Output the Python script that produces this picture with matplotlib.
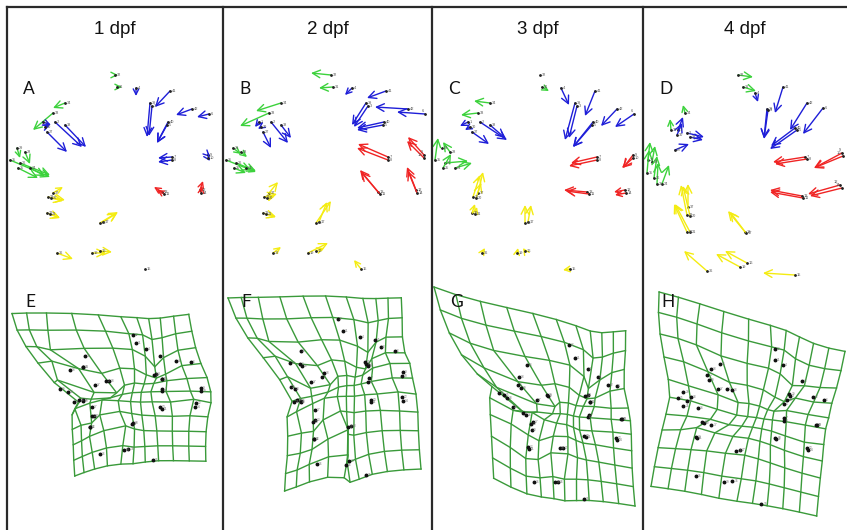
import numpy as np
import matplotlib
matplotlib.use("Agg")
import matplotlib.pyplot as plt

# ---------------- data ----------------
titles = ["1 dpf", "2 dpf", "3 dpf", "4 dpf"]
top_letters = ["A", "B", "C", "D"]
bottom_letters = ["E", "F", "G", "H"]

labels = ["32", "31", "34", "33", "29", "28", "35", "26", "25", "24",
          "4", "41", "39", "3", "42", "6", "40", "5", "1", "30", "2", "38", "27",
          "7", "8", "9", "10",
          "13", "11", "12", "14",
          "37", "23", "20", "22", "21", "18", "17", "36", "19", "16", "15"]
groups = (["g"] * 10 + ["b"] * 13 + ["m"] * 4 + ["r"] * 4 + ["y"] * 11)

# landmark positions (mean shape), px from the panel's left edge / figure top
base_x = [108, 110, 58, 46, 10, 18, 3, 13, 11, 23,
          129, 163, 143, 145, 185, 202, 161, 160, 36, 38, 48, 58, 40,
          165, 165, 201, 201,
          155, 157, 193, 194,
          46, 41, 44, 40, 43, 93, 96, 50, 85, 93, 138]
base_y = [75, 87, 103, 113, 148, 152, 160, 163, 168, 168,
          88, 91, 103, 106, 109, 114, 122, 125, 122, 127, 122, 125, 132,
          157, 160, 155, 158,
          192, 194, 190, 193,
          193, 197, 198, 213, 214, 223, 222, 253, 253, 251, 269]

# landmark positions as drawn in panel D (4 dpf)
tail_x_4dpf = [95, 100, 42, 28, 5, 9, 4, 11, 14, 19,
               112, 140, 124, 125, 164, 180, 152, 154, 35, 34, 44, 47, 32,
               162, 164, 199, 200,
               159, 160, 197, 199,
               45, 44, 47, 44, 47, 102, 103, 64, 97, 104, 152]
tail_y_4dpf = [75, 87, 113, 130, 160, 162, 173, 178, 184, 184,
               93, 87, 109, 110, 103, 108, 128, 130, 130, 135, 133, 137, 150,
               157, 159, 153, 156,
               196, 198, 185, 188,
               207, 215, 216, 232, 232, 232, 233, 271, 267, 263, 275]

dx_1dpf = [3, 5, -12, -20, 3, 5, 40, 30, 20, 15,
           0, -15, -3, -3, -16, -12, -11, -10, 8, 5, 27, 21, 20,
           -14, -14, 2, 2,
           -8, -7, 3, 1,
           10, 17, 12, 13, 10, 18, 14, 16, 14, 12, 0]
dy_1dpf = [0, 0, 5, 17, 10, 12, 17, 12, 10, 8,
           8, 16, 34, 30, 6, 3, 21, 18, 3, -2, 25, 22, 20,
           1, 2, 2, 3,
           -5, -4, -9, -7,
           -6, 3, 3, 5, 4, -11, -9, 6, 0, 1, 0]

dx_2dpf = [-20, -14, -25, -29, 8, 6, 25, 20, 12, 10,
           -7, -19, -14, -14, -33, -28, -27, -26, -4, -3, 17, 10, 8,
           -30, -31, -16, -17,
           -18, -19, -9, -9,
           9, 13, 8, 13, 10, 15, 8, 8, 20, 8, -7]
dy_2dpf = [-2, 1, 8, 13, 6, 5, 10, 8, 5, 4,
           7, 7, 22, 21, -2, -2, 6, 5, 5, 2, 21, 13, 16,
           -13, -12, -18, -17,
           -22, -22, -23, -22,
           -11, -3, -2, 4, 3, -22, -20, -6, -10, -3, -9]

dx_3dpf = [0, 7, -16, -17, -12, -7, 3, 23, 8, 17,
           8, -10, -10, -8, -16, -19, -20, -19, -8, -5, 27, 15, 17,
           -26, -28, -10, -11,
           -23, -23, -11, -11,
           5, 7, 5, 3, 2, 0, 3, 3, 1, -2, -7]
dy_3dpf = [0, 4, -2, 2, -12, -10, -22, -2, -14, -5,
           17, 25, 37, 32, 17, 13, 25, 22, 4, 3, 18, 13, 12,
           6, 6, 13, 10,
           -2, -3, 2, 2,
           -21, -22, -15, -9, -7, -18, -17, -5, -5, -3, 1]

dx_4dpf = [15, 13, -2, -1, 2, 3, 2, 3, 1, 7,
           3, -8, -3, -4, -17, -20, -24, -27, 5, 5, 17, 13, 14,
           -32, -32, -28, -29,
           -32, -33, -32, -32,
           0, -6, -7, -13, -15, -17, -16, -23, -24, -22, -32]
dy_4dpf = [2, 4, -8, -11, -18, -16, -23, -22, -21, -19,
           9, 26, 29, 29, 27, 26, 18, 19, -13, -12, 4, 3, -6,
           5, 5, 15, 12,
           -6, -6, 9, 8,
           -23, -30, -30, -28, -28, -21, -21, -20, -13, -12, -2]

dx_all = [dx_1dpf, dx_2dpf, dx_3dpf, dx_4dpf]
dy_all = [dy_1dpf, dy_2dpf, dy_3dpf, dy_4dpf]
mid_colors = ["b", "r", "r", "r"]

# ---------------- style / layout ----------------
W_PX, H_PX = 847, 530
col_left = [7, 223, 432, 643]
col_right = [223, 432, 643, 847]
colors = {"g": "#3cd23c", "b": "#1e1ed8", "r": "#f02424", "y": "#f4ec12"}
grid_color = "#3a9a3a"
# pixel boxes (x0, x1, y0, y1) occupied by each deformation grid
grid_boxes = [(12, 211, 313, 476), (228, 421, 296, 491), (434, 635, 287, 506), (651, 845, 292, 516)]
grid_x0, grid_x1, grid_y0, grid_y1, n_lines = -5, 212, 52, 270, 11

plt.rcParams['font.family'] = ['Liberation Sans', 'DejaVu Sans']
fig = plt.figure(figsize=(W_PX / 100, H_PX / 100), dpi=100)
fig.patch.set_facecolor("white")

bx = np.array(base_x, float)
by = np.array(base_y, float)


def tps_fit(src, dst, lam=1e-3):
    n = len(src)
    d = np.sqrt(((src[:, None, :] - src[None, :, :]) ** 2).sum(-1))
    with np.errstate(divide='ignore', invalid='ignore'):
        K = np.where(d > 0, d ** 2 * np.log(d ** 2), 0.0)
    K = K + lam * np.eye(n)
    P = np.hstack([np.ones((n, 1)), src])
    A = np.zeros((n + 3, n + 3))
    A[:n, :n] = K
    A[:n, n:] = P
    A[n:, :n] = P.T
    B = np.zeros((n + 3, 2))
    B[:n] = dst
    sol = np.linalg.lstsq(A, B, rcond=None)[0]
    return sol[:n], sol[n:]


def tps_apply(pts, src, w, a):
    d = np.sqrt(((pts[:, None, :] - src[None, :, :]) ** 2).sum(-1))
    with np.errstate(divide='ignore', invalid='ignore'):
        U = np.where(d > 0, d ** 2 * np.log(d ** 2), 0.0)
    return a[0] + pts @ a[1:] + U @ w


for k in range(4):
    L, R = col_left[k], col_right[k]
    Wc = R - L
    cols = [colors[mid_colors[k]] if g == "m" else colors[g] for g in groups]
    dx = np.array(dx_all[k], float)
    dy = np.array(dy_all[k], float)
    if k == 3:
        tx = np.array(tail_x_4dpf, float)
        ty = np.array(tail_y_4dpf, float)
    else:
        tx, ty = bx, by

    # ---- vector panel ----
    ax = fig.add_axes([L / W_PX, (H_PX - 280) / H_PX, Wc / W_PX, 220 / H_PX])
    ax.set_xlim(0, Wc)
    ax.set_ylim(280, 60)
    ax.axis("off")
    for i in range(len(labels)):
        x0, y0 = tx[i], ty[i]
        length = np.hypot(dx[i], dy[i])
        if length >= 1.5:
            ms = 8 if length < 12 else 11
            ax.annotate("", xy=(x0 + dx[i], y0 + dy[i]), xytext=(x0, y0),
                        arrowprops=dict(arrowstyle="->,head_length=0.5,head_width=0.25",
                                        color=cols[i], lw=1.0, shrinkA=0, shrinkB=0,
                                        mutation_scale=ms))
        ax.plot(x0, y0, marker="o", ms=1.0, color="#222222", zorder=3)
        if x0 > Wc - 10:
            ax.text(x0 - 1.5, y0 - 3, labels[i], fontsize=2.8, color="#555555",
                    va="center", ha="right", zorder=4)
        else:
            ax.text(x0 + 1.5, y0, labels[i], fontsize=2.8, color="#555555",
                    va="center", ha="left", zorder=4)

    # ---- deformation grid panel ----
    src = np.column_stack([bx, by])
    dst = np.column_stack([bx + dx, by + dy])
    w, a = tps_fit(src, dst)
    gx = np.linspace(grid_x0, grid_x1, n_lines)
    gy = np.linspace(grid_y0, grid_y1, n_lines)
    GX, GY = np.meshgrid(gx, gy)
    warped = tps_apply(np.column_stack([GX.ravel(), GY.ravel()]), src, w, a)
    WX = warped[:, 0].reshape(GX.shape)
    WY = warped[:, 1].reshape(GY.shape)

    bx0, bx1, by0, by1 = grid_boxes[k]
    axg = fig.add_axes([bx0 / W_PX, (H_PX - by1) / H_PX, (bx1 - bx0) / W_PX, (by1 - by0) / H_PX])
    axg.set_xlim(WX.min(), WX.max())
    axg.set_ylim(WY.max(), WY.min())
    axg.axis("off")
    for r in range(n_lines):
        axg.plot(WX[r, :], WY[r, :], color=grid_color, lw=1.0, clip_on=False)
        axg.plot(WX[:, r], WY[:, r], color=grid_color, lw=1.0, clip_on=False)
    axg.plot(dst[:, 0], dst[:, 1], "o", ms=1.8, color="#111111", zorder=3, clip_on=False)
    for i in range(len(labels)):
        axg.text(dst[i, 0] + 2.5, dst[i, 1], labels[i], fontsize=2.3, color="#777777",
                 va="center", ha="left", zorder=4)

# ---------------- frame, titles, letters ----------------
bg = fig.add_axes([0, 0, 1, 1], zorder=10)
bg.set_xlim(0, W_PX)
bg.set_ylim(H_PX, 0)
bg.axis("off")
bg.patch.set_alpha(0)
bg.plot([7, W_PX], [7, 7], color="#2a2a2a", lw=1.6)
for xl in col_left:
    bg.plot([xl, xl], [7, H_PX], color="#2a2a2a", lw=1.6)
for k in range(4):
    cx = (col_left[k] + col_right[k]) / 2
    bg.text(cx, 29, titles[k], fontsize=13.5, ha="center", va="center", color="#111111")
    bg.text(col_left[k] + 16, 89, top_letters[k], fontsize=12.5, ha="left", va="center",
            color="#111111", family=["Lato", "DejaVu Sans"])
    bg.text(col_left[k] + 18, 302, bottom_letters[k], fontsize=12.5, ha="left", va="center",
            color="#111111", family=["Lato", "DejaVu Sans"])

fig.savefig("out.png", dpi=100)
